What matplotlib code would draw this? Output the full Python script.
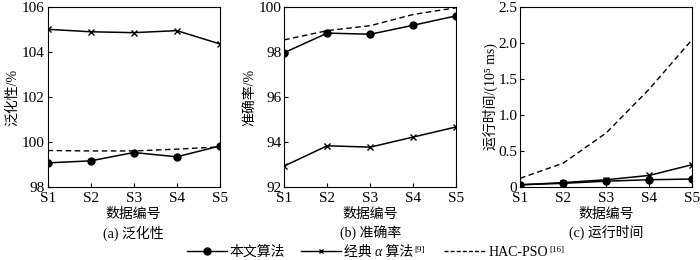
import matplotlib
matplotlib.use("Agg")
import matplotlib.pyplot as plt
from matplotlib.lines import Line2D

FAM = ['Liberation Serif', 'DejaVu Serif', 'Noto Sans CJK SC']
plt.rcParams['font.family'] = FAM
plt.rcParams['font.size'] = 10

categories = ["S1", "S2", "S3", "S4", "S5"]

gen_ours = [99.07, 99.16, 99.53, 99.34, 99.82]
gen_alpha = [105.01, 104.90, 104.86, 104.95, 104.36]
gen_hac = [99.62, 99.60, 99.60, 99.68, 99.78]

acc_ours = [97.97, 98.84, 98.79, 99.19, 99.61]
acc_alpha = [92.93, 93.83, 93.77, 94.22, 94.67]
acc_hac = [98.54, 98.95, 99.17, 99.67, 99.97]

time_ours = [0.03, 0.05, 0.08, 0.10, 0.11]
time_alpha = [0.03, 0.06, 0.10, 0.16, 0.31]
time_hac = [0.12, 0.33, 0.75, 1.36, 2.05]

panels = [
    (gen_ours, gen_alpha, gen_hac, (98, 106), [98, 100, 102, 104, 106], "泛化性/%", "(a) 泛化性", "{:.0f}"),
    (acc_ours, acc_alpha, acc_hac, (92, 100), [92, 94, 96, 98, 100], "准确率/%", "(b) 准确率", "{:.0f}"),
    (time_ours, time_alpha, time_hac, (0, 2.5), [0, 0.5, 1.0, 1.5, 2.0, 2.5], "运行时间/(10⁵ ms)", "(c) 运行时间", "{:.1f}"),
]

W, H = 700, 260
fig = plt.figure(figsize=(7, 2.6), dpi=100)
lefts = [0.068, 0.406, 0.743]
w = 0.246
for i, (o, a, h, ylim, yt, ylab, title, fmt) in enumerate(panels):
    ax = fig.add_axes([lefts[i], 0.281, w, 0.692])
    x = list(range(len(categories)))
    ax.plot(x, h, color='black', lw=1.0, ls=(0, (4, 2.5)))
    ax.plot(x, a, color='black', lw=1.1, marker='x', ms=4, mew=1.0)
    ax.plot(x, o, color='black', lw=1.1, marker='o', ms=5)
    ax.set_xlim(0, 4)
    ax.set_ylim(*ylim)
    ax.set_xticks(x)
    ax.set_xticklabels(categories, fontsize=11)
    ax.set_yticks(yt)
    labels = ["0" if (i == 2 and v == 0) else fmt.format(v) for v in yt]
    ax.set_yticklabels(labels, fontsize=11)
    ax.tick_params(direction='in', length=3, width=0.8, pad=2)
    ax.tick_params(axis='x', pad=3.5)
    for s in ax.spines.values():
        s.set_linewidth(0.8)
    ax.set_ylabel(ylab, fontsize=10, labelpad=2 if i < 2 else 0)
    ax.set_xlabel("数据编号", fontsize=10, labelpad=2)
    ax.text(0.5, -0.255, title, transform=ax.transAxes, ha='center', va='center', fontsize=10)

# manual legend (pixel layout)
renderer = fig.canvas.get_renderer()
ybase_px = 256  # baseline in pixels from top
yline_px = 251


def fx(px):
    return px / W


def fy(py):
    return 1 - py / H


def add_text(xpx, s, size=10, style='normal', raise_px=0):
    t = fig.text(fx(xpx), fy(ybase_px - raise_px), s, fontsize=size, style=style,
                 ha='left', va='baseline', family=FAM)
    return xpx + t.get_window_extent(renderer).width


def add_handle(xpx, length, **kw):
    ln = Line2D([fx(xpx), fx(xpx + length)], [fy(yline_px)] * 2, transform=fig.transFigure,
                color='black', lw=1.0, **kw)
    fig.add_artist(ln)
    return ln


x0 = 187
add_handle(x0, 40)
fig.add_artist(Line2D([fx(x0 + 20)], [fy(yline_px)], transform=fig.transFigure,
                      color='black', marker='o', ms=5, ls='none'))
xc = add_text(x0 + 43, "本文算法")

x1 = xc + 15
add_handle(x1, 40)
fig.add_artist(Line2D([fx(x1 + 20)], [fy(yline_px)], transform=fig.transFigure,
                      color='black', marker='x', ms=3.5, mew=1.0, ls='none'))
xc = add_text(x1 + 43, "经典 ")
xc = add_text(xc, "α", style='italic')
xc = add_text(xc, " 算法")
xc = add_text(xc + 1, "[9]", size=6.5, raise_px=4)

x2 = xc + 19
add_handle(x2, 41, ls=(0, (2.9, 1.5)))
xc = add_text(x2 + 45, "HAC-PSO")
xc = add_text(xc + 1, "[16]", size=6.5, raise_px=4)

fig.savefig("out.png", dpi=100)
